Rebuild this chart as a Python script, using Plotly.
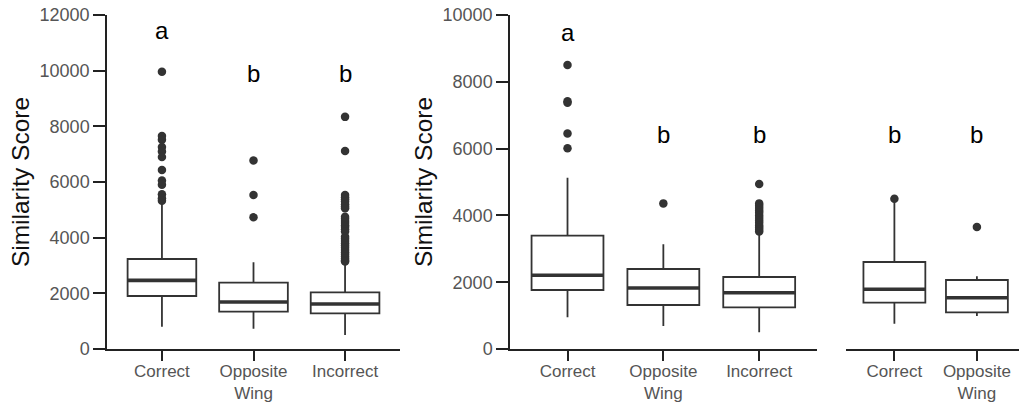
import plotly.graph_objects as go

# ---- data -------------------------------------------------------------
left_categories = ["Correct", "Opposite<br>Wing", "Incorrect"]
left_q1 = [1904, 1341, 1282]
left_median = [2467, 1689, 1617]
left_q3 = [3233, 2383, 2036]
left_lower = [800, 730, 503]
left_upper = [5250, 3115, 3090]
left_outliers = [
    [9960, 7650, 7520, 7260, 7100, 6900, 6430, 6050, 5900, 5560, 5420, 5330],
    [6770, 5530, 4730],
    [8340, 7110, 5530, 5450, 5380, 5300, 5200, 5120, 5060, 4750, 4680, 4600,
     4530, 4450, 4380, 4300, 4220, 4030, 3960, 3880, 3800, 3720, 3640, 3560,
     3480, 3400, 3320, 3250, 3180, 3140],
]
left_letters = ["a", "b", "b"]
left_yticks = [0, 2000, 4000, 6000, 8000, 10000, 12000]

mid_categories = ["Correct", "Opposite<br>Wing", "Incorrect"]
mid_q1 = [1766, 1317, 1248]
mid_median = [2206, 1826, 1686]
mid_q3 = [3393, 2395, 2156]
mid_lower = [949, 689, 499]
mid_upper = [5129, 3134, 3460]
mid_outliers = [
    [8500, 7420, 7370, 6450, 6010],
    [4360],
    [4940, 4360, 4290, 4220, 4150, 4080, 4000, 3920, 3850, 3780, 3700, 3640,
     3570, 3520],
]
mid_letters = ["a", "b", "b"]
mid_yticks = [0, 2000, 4000, 6000, 8000, 10000]

right_categories = ["Correct", "Opposite<br>Wing"]
right_q1 = [1386, 1098]
right_median = [1787, 1536]
right_q3 = [2605, 2066]
right_lower = [758, 988]
right_upper = [4400, 2176]
right_outliers = [[4500], [3653]]
right_letters = ["b", "b"]

# ---- style ------------------------------------------------------------
DARK = "#333333"
AXIS = "#222222"
FAMILY = "Liberation Sans, Arial, sans-serif"
XTICKFONT = dict(family=FAMILY, size=17, color="#555555")
YTICKFONT = dict(family=FAMILY, size=18, color="#555555")
TITLEFONT = dict(family=FAMILY, size=24.5, color="#111111")
LETTERFONT = dict(family=FAMILY, size=24, color="#000000")
BOX_W = 0.75

W, H = 1019, 404
Y_BOT, Y_TOP = 1 - 349 / H, 1 - 15 / H

fig = go.Figure()

panels = [
    dict(cats=left_categories, q1=left_q1, med=left_median, q3=left_q3,
         lo=left_lower, hi=left_upper, out=left_outliers, letters=left_letters,
         letter_y=[11450, 9906, 9906], xa="x", ya="y"),
    dict(cats=mid_categories, q1=mid_q1, med=mid_median, q3=mid_q3,
         lo=mid_lower, hi=mid_upper, out=mid_outliers, letters=mid_letters,
         letter_y=[9470, 6430, 6430], xa="x2", ya="y2"),
    dict(cats=right_categories, q1=right_q1, med=right_median, q3=right_q3,
         lo=right_lower, hi=right_upper, out=right_outliers, letters=right_letters,
         letter_y=[6430, 6430], xa="x3", ya="y3"),
]

annotations = []
for p in panels:
    for i, cat in enumerate(p["cats"]):
        fig.add_trace(go.Box(
            x=[i], q1=[p["q1"][i]], median=[p["med"][i]], q3=[p["q3"][i]],
            lowerfence=[p["lo"][i]], upperfence=[p["hi"][i]],
            width=BOX_W, whiskerwidth=0, boxpoints=False,
            line=dict(color=DARK, width=1.8), fillcolor="white",
            xaxis=p["xa"], yaxis=p["ya"], showlegend=False, hoverinfo="skip",
        ))
        # heavier median bar
        fig.add_trace(go.Scatter(
            x=[i - BOX_W / 2, i + BOX_W / 2], y=[p["med"][i], p["med"][i]],
            mode="lines", line=dict(color=DARK, width=3.6),
            xaxis=p["xa"], yaxis=p["ya"], showlegend=False, hoverinfo="skip",
        ))
        outs = p["out"][i]
        fig.add_trace(go.Scatter(
            x=[i] * len(outs), y=outs, mode="markers",
            marker=dict(color=DARK, size=8.5, line=dict(width=0)),
            xaxis=p["xa"], yaxis=p["ya"], showlegend=False, hoverinfo="skip",
        ))
        annotations.append(dict(
            x=i, y=p["letter_y"][i], xref=p["xa"], yref=p["ya"],
            text=p["letters"][i], showarrow=False, font=LETTERFONT,
            xanchor="center", yanchor="middle",
        ))

common_x = dict(showline=True, linecolor=AXIS, linewidth=1.5, ticks="outside",
                ticklen=10, tickwidth=1.5, tickcolor=AXIS, tickfont=XTICKFONT,
                ticklabelstandoff=-4,
                showgrid=False, zeroline=False, fixedrange=True, automargin=False)
common_y = dict(showline=True, linecolor=AXIS, linewidth=1.5, ticks="outside",
                ticklen=12, tickwidth=1.5, tickcolor=AXIS, tickfont=YTICKFONT,
                showgrid=False, zeroline=False, fixedrange=True, automargin=False,
                title=dict(text="Similarity Score", font=TITLEFONT, standoff=3))

fig.update_layout(
    width=W, height=H, margin=dict(l=0, r=0, t=0, b=0),
    paper_bgcolor="white", plot_bgcolor="white",
    annotations=annotations,
    xaxis=dict(common_x, domain=[107 / W, 400 / W], range=[-0.6, 2.6],
               tickmode="array", tickvals=list(range(len(left_categories))),
               ticktext=left_categories, anchor="y"),
    yaxis=dict(common_y, domain=[Y_BOT, Y_TOP], range=[0, 12000],
               tickmode="array", tickvals=left_yticks,
               ticktext=[str(v) for v in left_yticks], anchor="x"),
    xaxis2=dict(common_x, domain=[510 / W, 816.7 / W], range=[-0.6, 2.6],
                tickmode="array", tickvals=list(range(len(mid_categories))),
                ticktext=mid_categories, anchor="y2"),
    yaxis2=dict(common_y, domain=[Y_BOT, Y_TOP], range=[0, 10000],
                tickmode="array", tickvals=mid_yticks,
                ticktext=[str(v) for v in mid_yticks], anchor="x2"),
    xaxis3=dict(common_x, domain=[845.7 / W, 1.0], range=[-0.59, 1.51],
                tickmode="array", tickvals=list(range(len(right_categories))),
                ticktext=right_categories, anchor="y3"),
    yaxis3=dict(domain=[Y_BOT, Y_TOP], range=[0, 10000], visible=False,
                fixedrange=True, anchor="x3"),
)

fig.write_html("out.html", config={"displayModeBar": False})
